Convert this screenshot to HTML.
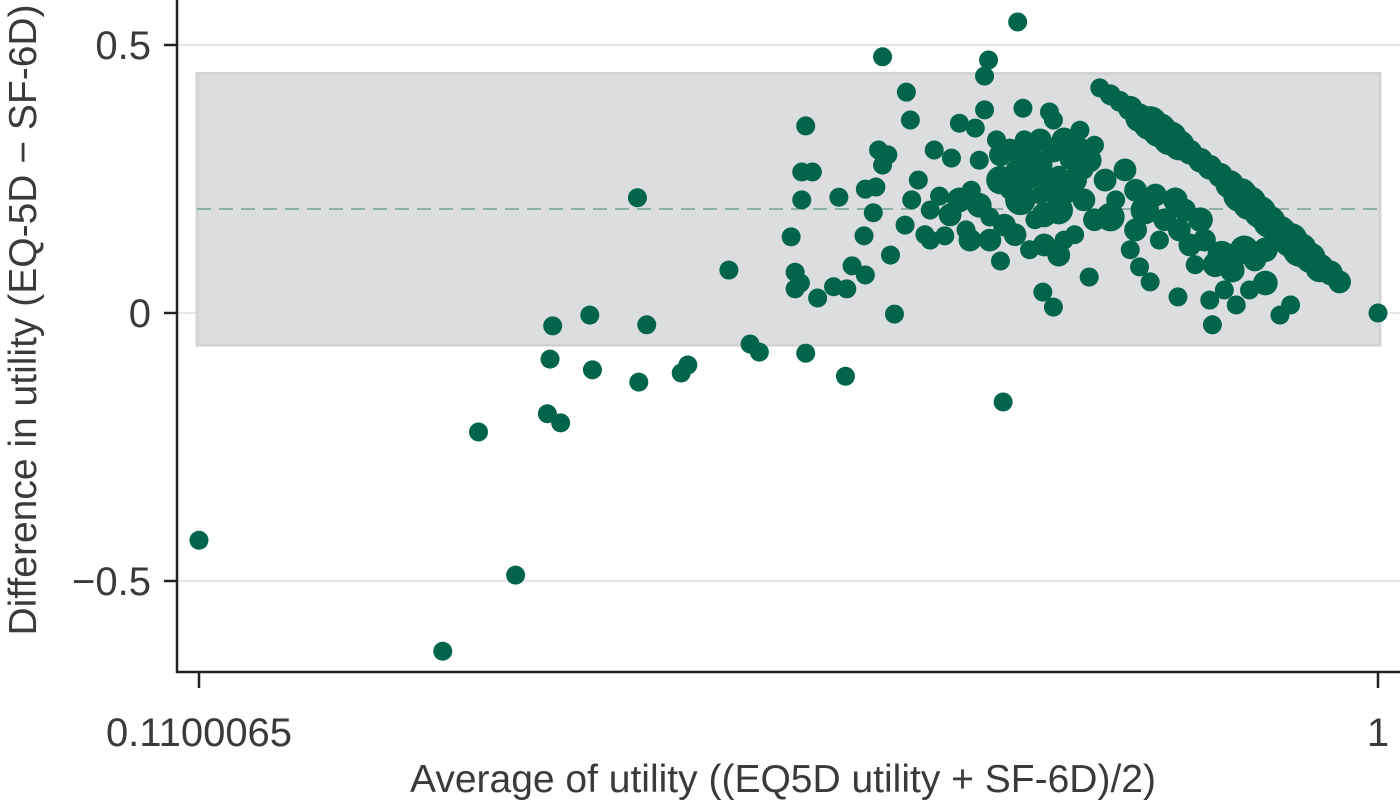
<!DOCTYPE html>
<html><head><meta charset="utf-8"><style>
html,body{margin:0;padding:0;background:#fff;}
svg{display:block;font-family:"Liberation Sans",sans-serif;}
</style></head><body>
<svg id="chart" width="1400" height="805" viewBox="0 0 1400 805"></svg>
<script>
const xTicks=[0.1100065,1];
const xTickLabels=["0.1100065","1"];
const yTicks=[0.5,0,-0.5];
const yTickLabels=["0.5","0","\u22120.5"];
const meanDiff=0.194;
const upperLimit=0.447;
const lowerLimit=-0.06;
const xVals=[0.110,0.294,0.321,0.349,0.373,0.383,0.375,0.377,0.405,0.407,0.441,0.442,0.448,0.474,0.479,0.510,0.526,0.533,0.557,0.560,0.560,0.564,0.565,0.565,0.568,0.568,0.573,0.577,0.589,0.593,0.598,0.599,0.603,0.612,0.613,0.613,0.619,0.621,0.623,0.626,0.626,0.630,0.632,0.635,0.644,0.647,0.643,0.648,0.653,0.658,0.662,0.662,0.665,0.669,0.673,0.678,0.684,0.689,0.693,0.696,0.699,0.703,0.703,0.706,0.707,0.712,0.715,0.717,0.728,0.722,0.726,0.732,0.733,0.737,0.741,0.745,0.747,0.752,0.755,0.755,0.759,0.763,0.767,0.771,0.775,0.778,0.782,0.786,
0.790,0.798,0.805,0.813,0.820,0.828,0.835,0.843,0.850,0.858,0.866,0.873,0.881,0.888,0.896,0.903,0.911,0.918,0.926,0.934,0.941,0.949,0.956,0.964,0.971,
0.794,0.798,0.802,0.809,0.813,0.817,0.820,0.817,0.824,0.828,0.832,0.835,0.839,0.847,0.850,0.849,0.854,0.858,0.862,0.866,0.869,0.873,0.875,0.877,0.882,0.884,0.890,0.893,0.899,0.903,0.907,0.915,0.926,0.934,0.915,1.000,
0.677,0.684,0.692,0.699,0.707,0.715,0.718,0.726,0.730,0.733,0.737,0.745,0.748,0.752,0.755,0.759,0.763,0.767,0.771,0.778,0.782,0.786,0.748,0.759,0.715,0.722,0.745,0.775];
const yVals=[-0.424,-0.631,-0.222,-0.489,-0.188,-0.205,-0.086,-0.024,-0.004,-0.106,0.215,-0.129,-0.022,-0.112,-0.097,0.080,-0.058,-0.073,0.142,0.076,0.045,0.056,0.211,0.263,0.349,-0.075,0.263,0.028,0.049,0.216,-0.118,0.045,0.088,0.144,0.071,0.231,0.187,0.235,0.304,0.478,0.276,0.295,0.108,-0.002,0.412,0.360,0.164,0.211,0.248,0.146,0.136,0.192,0.304,0.218,0.144,0.289,0.354,0.155,0.229,0.345,0.285,0.442,0.379,0.472,0.179,0.323,0.097,-0.166,0.543,0.229,0.267,0.382,0.323,0.118,0.174,0.220,0.039,0.375,0.011,0.360,0.257,0.136,0.285,0.146,0.341,0.267,0.067,0.313,
0.420,0.407,0.395,0.382,0.364,0.354,0.341,0.326,0.313,0.300,0.285,0.272,0.257,0.240,0.220,0.205,0.188,0.170,0.151,0.136,0.118,0.103,0.084,0.075,0.058,
0.248,0.179,0.211,0.267,0.118,0.229,0.086,0.155,0.192,0.058,0.220,0.136,0.174,0.211,0.155,0.030,0.192,0.127,0.090,0.174,0.136,0.024,-0.022,0.090,0.108,0.043,0.080,0.015,0.118,0.043,0.099,0.056,-0.004,0.015,0.118,0.000,
0.183,0.211,0.136,0.201,0.136,0.248,0.164,0.146,0.211,0.248,0.285,0.276,0.183,0.239,0.304,0.192,0.323,0.229,0.248,0.211,0.285,0.174,0.127,0.108,0.295,0.304,0.323,0.304];
const weights=[1,1,1,1,1,1,1,1,1,1,1,1,1,1,1,1,1,1,1,1,1,1,1,1,1,1,1,1,1,1,1,1,1,1,1,1,1,1,1,1,1,1,1,1,1,1,1,1,1,1,1,1,1,1,1,1,1,1,1,1,1,1,1,1,1,1,1,1,1,1,1,1,1,1,1,1,1,1,1,1,1,1,1,1,1,1,1,1,
1,1.1,1.1,1.3,1.5,1.8,1.8,1.8,1.6,1.3,1.3,1.3,1.3,1.5,1.8,1.8,1.7,1.7,1.7,1.8,1.8,1.6,1.5,1.3,1.2,
1.2,1.5,1,1.2,1,1.2,1,1.2,1.5,1,1.2,1,1.2,1.3,1.2,1,1.2,1.2,1,1.3,1.2,1,1,1.3,1.5,1,1.3,1,1.5,1,1.2,1.3,1,1,1.3,1,
1.2,1.3,1.2,1.3,1.2,1.5,1.2,1.2,1.6,1.3,1.5,1.3,1.3,1.6,1.3,1.5,1.3,1.3,1.3,1.2,1.3,1.2,1.2,1.2,1.2,1.2,1.2,1.3];

const NS="http://www.w3.org/2000/svg";
const svg=document.getElementById('chart');
const X0=199,X1=1378,Y0=313,YPU=536;
function sx(v){return X0+(v-xTicks[0])/(xTicks[1]-xTicks[0])*(X1-X0);}
function sy(v){return Y0-v*YPU;}
function mk(tag,attrs,parent){const e=document.createElementNS(NS,tag);for(const k in attrs)e.setAttribute(k,attrs[k]);(parent||svg).appendChild(e);return e;}

yTicks.forEach((t,i)=>{
  const g=mk('line',{x1:177,x2:1400,y1:sy(t),y2:sy(t),stroke:'#e6e6e6','stroke-width':2});
  
  
});
const band=mk('rect',{x:197,y:sy(upperLimit),width:1183,height:sy(lowerLimit)-sy(upperLimit),fill:'#dcdddf',stroke:'#d2d3d5','stroke-width':3});


const ml=mk('line',{x1:197,x2:1380,y1:sy(meanDiff),y2:sy(meanDiff),stroke:'#8fb0a2','stroke-width':2,'stroke-dasharray':'14,8'});


const pg=mk('g',{fill:'#00654a'});


for(let i=0;i<xVals.length;i++){
  const c=mk('circle',{cx:sx(xVals[i]),cy:sy(yVals[i]),r:9.5*(weights[i]||1)},pg);
  
  
}
const ya=mk('line',{x1:177,x2:177,y1:0,y2:673,stroke:'#222','stroke-width':2.5});


const xa=mk('line',{x1:176,x2:1400,y1:672,y2:672,stroke:'#222','stroke-width':2.5});


yTicks.forEach((t,i)=>{
  const tk=mk('line',{x1:164,x2:177,y1:sy(t),y2:sy(t),stroke:'#222','stroke-width':2.5});
  
  
  const tl=mk('text',{x:151,y:sy(t)+14,'text-anchor':'end','font-size':40,fill:'#3a3a3a'});
  tl.textContent=yTickLabels[i];
  
  
});
xTicks.forEach((t,i)=>{
  const tk=mk('line',{x1:sx(t),x2:sx(t),y1:672,y2:688,stroke:'#222','stroke-width':2.5});
  
  
  const tl=mk('text',{x:sx(t),y:746,'text-anchor':'middle','font-size':40,fill:'#3a3a3a'});
  tl.textContent=xTickLabels[i];
  
  
});
const xt=mk('text',{x:783,y:792,'text-anchor':'middle','font-size':39,fill:'#3a3a3a'});
xt.textContent='Average of utility ((EQ5D utility + SF-6D)/2)';


const yt=mk('text',{x:0,y:0,'text-anchor':'middle','font-size':39,fill:'#3a3a3a',transform:'translate(36,320) rotate(-90)'});
yt.textContent='Difference in utility (EQ-5D \u2212 SF-6D)';


</script>
</body></html>
